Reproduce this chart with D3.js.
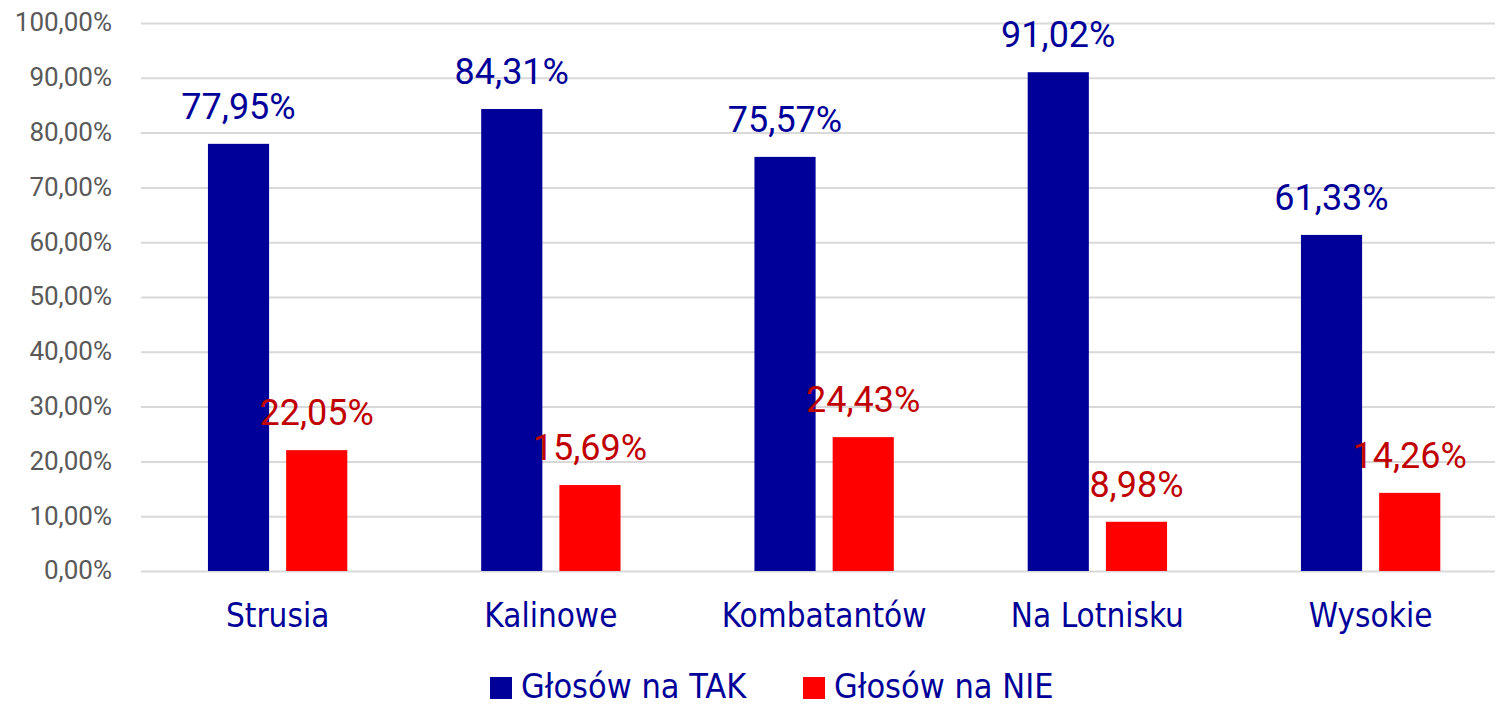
<!DOCTYPE html>
<html>
<head>
<meta charset="utf-8">
<script src="https://cdn.jsdelivr.net/npm/d3@7"></script>
<style>
  body { margin: 0; background: #fff; }
  svg { display: block; }
</style>
</head>
<body>
<svg></svg>
<script>
// Glosowanie TAK / NIE per osiedle - grouped bars

const width = 1497;
const height = 704;

const categories = ["Strusia", "Kalinowe", "Kombatantów", "Na Lotnisku", "Wysokie"];
const seriesNames = ["Głosów na TAK", "Głosów na NIE"];
const takValues = [77.95, 84.31, 75.57, 91.02, 61.33];
const nieValues = [22.05, 15.69, 24.43, 8.98, 14.26];
const yTicks = [0, 10, 20, 30, 40, 50, 60, 70, 80, 90, 100];

const barColors = ["#000099", "#ff0000"];
const labelColors = ["#000099", "#c00000"];
const narrowFont = "'Liberation Sans Narrow', 'DejaVu Sans Condensed', 'Arial Narrow', sans-serif";

const plot = { left: 141, right: 1495, top: 23, bottom: 571 };

const locale = d3.formatLocale({ decimal: ",", thousands: " ", grouping: [3], currency: ["", " zł"] });
const fmt = (v) => locale.format(".2f")(v) + "%";

const svg = d3.select("svg").attr("width", width).attr("height", height);

// bands are a bit wider than the grid (the groups sit slightly right)
const x0 = d3
  .scaleBand()
  .domain(categories)
  .range([plot.left, plot.left + 5 * 273.25])
  .paddingInner(0.49)
  .paddingOuter(0.245);

const x1 = d3
  .scaleBand()
  .domain([0, 1])
  .range([0, x0.bandwidth()])
  .paddingInner(0.218);

const y = d3.scaleLinear().domain([0, 100]).range([plot.bottom, plot.top]);

// gridlines + y labels
const yAxis = d3
  .axisLeft(y)
  .tickValues(yTicks)
  .tickSize(-(plot.right - plot.left))
  .tickPadding(29)
  .tickFormat(fmt);

const gy = svg
  .append("g")
  .attr("transform", "translate(" + plot.left + ",0)")
  .call(yAxis);
gy.select(".domain").remove();
gy.selectAll(".tick line").attr("stroke", "#d9d9d9").attr("stroke-width", 2);
gy.selectAll(".tick text")
  .attr("fill", "#595959")
  .style("font-family", "Roboto, sans-serif")
  .style("font-size", "26px")
  .attr("dy", "0.3em");

const rows = categories.map((c, i) => ({ cat: c, vals: [takValues[i], nieValues[i]] }));

const groups = svg
  .selectAll(".group")
  .data(rows)
  .enter()
  .append("g")
  .attr("class", "group")
  .attr("transform", (d) => "translate(" + x0(d.cat) + ",0)");

groups
  .selectAll("rect")
  .data((d) => d.vals.map((v, s) => ({ v, s })))
  .enter()
  .append("rect")
  .attr("x", (d) => x1(d.s))
  .attr("width", x1.bandwidth())
  .attr("y", (d) => y(d.v))
  .attr("height", (d) => y(0) - y(d.v))
  .attr("fill", (d) => barColors[d.s]);

groups
  .selectAll(".val")
  .data((d) => d.vals.map((v, s) => ({ v, s })))
  .enter()
  .append("text")
  .attr("class", "val")
  .attr("x", (d) => x1(d.s) + x1.bandwidth() / 2)
  .attr("y", (d) => y(d.v) - 25)
  .attr("text-anchor", "middle")
  .attr("fill", (d) => labelColors[d.s])
  .style("font-family", "Roboto, sans-serif")
  .style("font-size", "36px")
  .text((d) => fmt(d.v));

// x axis category labels
svg
  .selectAll(".cat")
  .data(categories)
  .enter()
  .append("text")
  .attr("class", "cat")
  .attr("x", (d) => x0(d) + x0.bandwidth() / 2)
  .attr("y", 627)
  .attr("text-anchor", "middle")
  .attr("fill", "#000099")
  .style("font-family", narrowFont)
  .style("font-size", "33px")
  .text((d) => d);

// legend
const legendX = [490, 803];
const legend = svg
  .append("g")
  .selectAll("g")
  .data(seriesNames)
  .enter()
  .append("g")
  .attr("transform", (d, i) => "translate(" + legendX[i] + ",677)");

legend
  .append("rect")
  .attr("width", 22)
  .attr("height", 22)
  .attr("fill", (d, i) => barColors[i]);

legend
  .append("text")
  .attr("x", 31)
  .attr("y", 21)
  .attr("fill", "#000099")
  .style("font-family", narrowFont)
  .style("font-size", "34px")
  .text((d) => d);
</script>
</body>
</html>
